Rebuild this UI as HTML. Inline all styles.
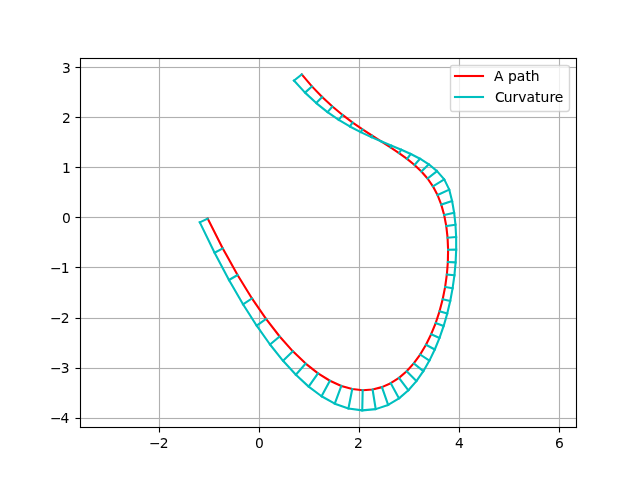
<!DOCTYPE html>
<html lang="en">
<head>
<meta charset="utf-8">
<title>A path and its curvature</title>
<style>
html,body{margin:0;padding:0;background:#fff;width:640px;height:480px;overflow:hidden}
svg{display:block;will-change:transform}
text{font-family:"DejaVu Sans","Liberation Sans",sans-serif;font-size:13.89px;fill:#000;text-anchor:start;white-space:pre}
.g{fill:#b0b0b0}.k{fill:#000}.h{fill-opacity:0.0555}.g.h{fill-opacity:0.063}
.path{fill:none;stroke-width:2.100;stroke-linecap:square;stroke-linejoin:round}
.lt{stroke:#000;stroke-width:0.05px}
.red{stroke:#f00;stroke-width:2.100}.cyan{stroke:#00bfbf;stroke-width:2.100}
</style>
</head>
<body>
<svg width="640" height="480" viewBox="0 0 640 480">
<rect width="640" height="480" fill="#fff"/>
<defs><clipPath id="ax"><rect x="80" y="57.6" width="496" height="369.6"/></clipPath></defs>
<!-- grid -->
<g clip-path="url(#ax)">
<rect class="g h" x="158" y="58" width="3" height="370"/><rect class="g" x="159" y="58" width="1" height="370"/>
<rect class="g h" x="258" y="58" width="3" height="370"/><rect class="g" x="259" y="58" width="1" height="370"/>
<rect class="g h" x="358" y="58" width="3" height="370"/><rect class="g" x="359" y="58" width="1" height="370"/>
<rect class="g h" x="458" y="58" width="3" height="370"/><rect class="g" x="459" y="58" width="1" height="370"/>
<rect class="g h" x="558" y="58" width="3" height="370"/><rect class="g" x="559" y="58" width="1" height="370"/>
<rect class="g h" x="80" y="66" width="497" height="3"/><rect class="g" x="80" y="67" width="497" height="1"/>
<rect class="g h" x="80" y="116" width="497" height="3"/><rect class="g" x="80" y="117" width="497" height="1"/>
<rect class="g h" x="80" y="166" width="497" height="3"/><rect class="g" x="80" y="167" width="497" height="1"/>
<rect class="g h" x="80" y="216" width="497" height="3"/><rect class="g" x="80" y="217" width="497" height="1"/>
<rect class="g h" x="80" y="266" width="497" height="3"/><rect class="g" x="80" y="267" width="497" height="1"/>
<rect class="g h" x="80" y="317" width="497" height="3"/><rect class="g" x="80" y="318" width="497" height="1"/>
<rect class="g h" x="80" y="367" width="497" height="3"/><rect class="g" x="80" y="368" width="497" height="1"/>
<rect class="g h" x="80" y="417" width="497" height="3"/><rect class="g" x="80" y="418" width="497" height="1"/>
</g>
<!-- tick marks -->
<g>
<rect class="k h" x="158" y="427.5" width="3" height="5"/><rect class="k" x="159" y="427.5" width="1" height="5"/>
<rect class="k h" x="258" y="427.5" width="3" height="5"/><rect class="k" x="259" y="427.5" width="1" height="5"/>
<rect class="k h" x="358" y="427.5" width="3" height="5"/><rect class="k" x="359" y="427.5" width="1" height="5"/>
<rect class="k h" x="458" y="427.5" width="3" height="5"/><rect class="k" x="459" y="427.5" width="1" height="5"/>
<rect class="k h" x="558" y="427.5" width="3" height="5"/><rect class="k" x="559" y="427.5" width="1" height="5"/>
<rect class="k h" x="75.5" y="66" width="5" height="3"/><rect class="k" x="75.5" y="67" width="5" height="1"/>
<rect class="k h" x="75.5" y="116" width="5" height="3"/><rect class="k" x="75.5" y="117" width="5" height="1"/>
<rect class="k h" x="75.5" y="166" width="5" height="3"/><rect class="k" x="75.5" y="167" width="5" height="1"/>
<rect class="k h" x="75.5" y="216" width="5" height="3"/><rect class="k" x="75.5" y="217" width="5" height="1"/>
<rect class="k h" x="75.5" y="266" width="5" height="3"/><rect class="k" x="75.5" y="267" width="5" height="1"/>
<rect class="k h" x="75.5" y="317" width="5" height="3"/><rect class="k" x="75.5" y="318" width="5" height="1"/>
<rect class="k h" x="75.5" y="367" width="5" height="3"/><rect class="k" x="75.5" y="368" width="5" height="1"/>
<rect class="k h" x="75.5" y="417" width="5" height="3"/><rect class="k" x="75.5" y="418" width="5" height="1"/>
</g>
<!-- x tick labels -->
<g>
<text x="149 159.75" y="448">−2</text>
<text x="255" y="448">0</text>
<text x="354" y="448">2</text>
<text x="455" y="448">4</text>
<text x="555" y="448">6</text>
</g>
<!-- y tick labels -->
<g>
<text x="62" y="73">3</text>
<text x="62" y="123">2</text>
<text x="62" y="173">1</text>
<text x="62" y="223">0</text>
<text x="50 60.75" y="273">−1</text>
<text x="50 60.75" y="323">−2</text>
<text x="50 60.75" y="373">−3</text>
<text x="50 60.5" y="423">−4</text>
</g>
<!-- data -->
<g clip-path="url(#ax)">
<polyline class="path red" points="207.65,218.55 222.79,248.41 237.57,275 251.99,298.46 266.03,318.92 279.66,336.5 292.89,351.34 305.68,363.58 318.03,373.33 329.92,380.74 341.34,385.93 352.26,389.03 362.68,390.18 372.58,389.51 381.94,387.14 390.75,383.21 398.99,377.86 406.66,371.2 413.72,363.38 420.17,354.52 425.99,344.75 431.17,334.21 435.69,323.02 439.53,311.32 442.69,299.25 445.14,286.92 446.87,274.47 447.86,262.03 448.1,249.73 447.58,237.71 446.28,226.1 444.17,215.02 441.26,204.6 437.51,194.99 432.93,186.29 427.53,178.5 421.38,171.45 414.54,164.98 407.07,158.93 399.04,153.15 390.51,147.47 381.55,141.72 372.21,135.76 362.56,129.42 352.67,122.54 342.6,114.95 332.41,106.51 322.17,97.04 311.93,86.39 301.77,74.4"/>
<polyline class="path cyan" points="199.81,222.36 214.58,252.76 228.99,280.02 243.02,304.28 256.69,325.72 270.01,344.51 283.05,360.81 295.88,374.81 308.65,386.61 321.55,396.27 334.78,403.67 348.42,408.51 362.25,410.4 375.72,409.13 388.14,404.91 399.05,398.39 408.4,390.27 416.41,381.09 423.33,371.15 429.41,360.59 434.78,349.5 439.52,337.93 443.67,325.94 447.24,313.59 450.23,300.97 452.62,288.18 454.42,275.29 455.61,262.42 456.19,249.64 456.15,237.05 455.47,224.72 454.14,212.7 452.1,201.01 449.26,189.66 444.26,179.4 437.01,171.08 428.81,164.27 420,158.7 410.82,153.99 401.37,149.77 391.64,145.72 381.63,141.59 371.32,137.14 360.72,132.16 349.84,126.46 338.75,119.84 327.52,112.11 316.24,103.09 305.03,92.63 293.98,80.59"/>
<path class="path cyan" d="M207.65 218.55L199.81 222.36 M222.79 248.41L214.58 252.76 M237.57 275L228.99 280.02 M251.99 298.46L243.02 304.28 M266.03 318.92L256.69 325.72 M279.66 336.5L270.01 344.51 M292.89 351.34L283.05 360.81 M305.68 363.58L295.88 374.81 M318.03 373.33L308.65 386.61 M329.92 380.74L321.55 396.27 M341.34 385.93L334.78 403.67 M352.26 389.03L348.42 408.51 M362.68 390.18L362.25 410.4 M372.58 389.51L375.72 409.13 M381.94 387.14L388.14 404.91 M390.75 383.21L399.05 398.39 M398.99 377.86L408.4 390.27 M406.66 371.2L416.41 381.09 M413.72 363.38L423.33 371.15 M420.17 354.52L429.41 360.59 M425.99 344.75L434.78 349.5 M431.17 334.21L439.52 337.93 M435.69 323.02L443.67 325.94 M439.53 311.32L447.24 313.59 M442.69 299.25L450.23 300.97 M445.14 286.92L452.62 288.18 M446.87 274.47L454.42 275.29 M447.86 262.03L455.61 262.42 M448.1 249.73L456.19 249.64 M447.58 237.71L456.15 237.05 M446.28 226.1L455.47 224.72 M444.17 215.02L454.14 212.7 M441.26 204.6L452.1 201.01 M437.51 194.99L449.26 189.66 M432.93 186.29L444.26 179.4 M427.53 178.5L437.01 171.08 M421.38 171.45L428.81 164.27 M414.54 164.98L420 158.7 M407.07 158.93L410.82 153.99 M399.04 153.15L401.37 149.77 M390.51 147.47L391.64 145.72 M381.55 141.72L381.63 141.59 M372.21 135.76L371.32 137.14 M362.56 129.42L360.72 132.16 M352.67 122.54L349.84 126.46 M342.6 114.95L338.75 119.84 M332.41 106.51L327.52 112.11 M322.17 97.04L316.24 103.09 M311.93 86.39L305.03 92.63 M301.77 74.4L293.98 80.59"/>
</g>
<!-- spines -->
<g>
<rect class="k h" x="79" y="58" width="3" height="370"/><rect class="k" x="80" y="58" width="1" height="370"/>
<rect class="k h" x="575" y="58" width="3" height="370"/><rect class="k" x="576" y="58" width="1" height="370"/>
<rect class="k h" x="80" y="57" width="1" height="1"/><rect class="k h" x="80" y="428" width="1" height="1"/><rect class="k h" x="576" y="57" width="1" height="1"/><rect class="k h" x="576" y="428" width="1" height="1"/>
<rect class="k h" x="80" y="426" width="497" height="3"/><rect class="k" x="79.945" y="427" width="497.11" height="1"/>
<rect class="k h" x="80" y="57" width="497" height="3"/><rect class="k" x="79.945" y="58" width="497.11" height="1"/>
</g>
<!-- legend -->
<g>
<path d="M452.5 111.5L566.5 111.5Q569.5 111.5 569.5 108.5L569.5 67.5Q569.5 65.5 566.5 65.5L452.5 65.5Q450.5 65.5 450.5 67.5L450.5 108.5Q450.5 111.5 452.5 111.5Z" fill="#fff" stroke="#ccc" stroke-width="1.389" stroke-linejoin="miter" opacity="0.8"/>
<line class="path red" x1="455" y1="76" x2="483" y2="76"/>
<text class="lt" x="494 503.5 508 516.75 525.5 530.75" y="81">A path</text>
<line class="path cyan" x1="455" y1="97" x2="483" y2="97"/>
<text class="lt" x="495 503.75 512.5 518.25 526.5 535 540.5 549.5 554.75" y="102">Curvature</text>
</g>
</svg>
</body>
</html>
